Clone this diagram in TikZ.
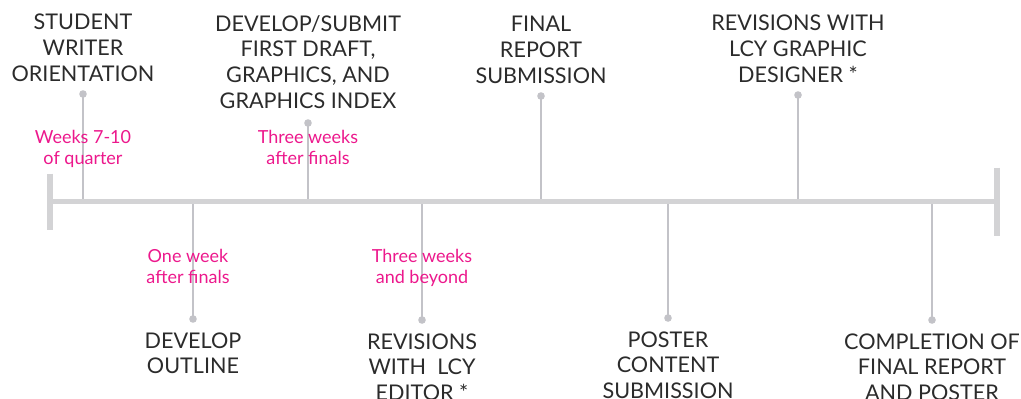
\documentclass[tikz,border=0pt]{standalone}
\usepackage{fontspec}
\setmainfont{Lato}
\definecolor{tlgray}{RGB}{211,211,213}
\definecolor{stemgray}{RGB}{195,195,200}
\definecolor{inkgray}{RGB}{43,43,43}
\definecolor{hotpink}{RGB}{236,24,140}
\usetikzlibrary{positioning, calc}
\tikzset{
	mainbar/.style={draw=tlgray, line width=2.75pt},
	endcap/.style={draw=tlgray, line width=3pt},
	stem/.style={draw=stemgray, line width=1pt},
	stemdot/.style={circle, fill=stemgray, inner sep=0pt, minimum size=3.8pt},
	milestone/.style={align=center, inner sep=0pt, text=inkgray, font=\fontsize{10.8}{12.85}\selectfont},
	timing/.style={align=center, inner sep=0pt, text=hotpink, font=\fontsize{9}{10.5}\selectfont},
}

\begin{document}
\begin{tikzpicture}[x=0.5pt, y=0.5pt, node distance=4pt]
		\useasboundingbox (0,0) rectangle (1021,398);
		\coordinate (barstart) at (50,196.5);
		\coordinate (barstop) at (997,196.5);
		\node[stemdot] (orientdot) at (83,304) {};
		\node[stemdot] (draftdot) at (308,275) {};
		\node[stemdot] (reportdot) at (541,302) {};
		\node[stemdot] (designerdot) at (798,303) {};
		\node[stemdot] (outlinedot) at (193,79) {};
		\node[stemdot] (editordot) at (422,78) {};
		\node[stemdot] (posterdot) at (668,80) {};
		\node[stemdot] (completedot) at (932,78) {};
		\draw[stem] (orientdot.center) -- (orientdot.center |- barstart);
		\draw[stem] (draftdot.center) -- (draftdot.center |- barstart);
		\draw[stem] (reportdot.center) -- (reportdot.center |- barstart);
		\draw[stem] (designerdot.center) -- (designerdot.center |- barstart);
		\draw[stem] (outlinedot.center) -- (outlinedot.center |- barstart);
		\draw[stem] (editordot.center) -- (editordot.center |- barstart);
		\draw[stem] (posterdot.center) -- (posterdot.center |- barstart);
		\draw[stem] (completedot.center) -- (completedot.center |- barstart);
		\draw[mainbar] (barstart) -- (barstop);
		\draw[endcap] ($(barstart)+(0,28)$) -- ($(barstart)+(0,-28)$);
		\draw[endcap] ($(barstop)+(0,34)$) -- ($(barstop)+(0,-34)$);
		\node[milestone, above=of orientdot] (orient) {STUDENT\\WRITER\\ORIENTATION};
		\node[milestone, above=5pt of draftdot] (draft) {DEVELOP/SUBMIT\\FIRST DRAFT,\\GRAPHICS, AND\\GRAPHICS INDEX};
		\node[milestone, above=of reportdot] (report) {FINAL\\REPORT\\SUBMISSION};
		\node[milestone, above=of designerdot] (designer) {REVISIONS WITH\\LCY GRAPHIC\\DESIGNER *};
		\node[milestone, below=4.5pt of outlinedot] (outline) {DEVELOP\\OUTLINE};
		\node[milestone, below=4.5pt of editordot] (editor) {REVISIONS\\WITH~ LCY\\EDITOR *};
		\node[milestone, below=4.5pt of posterdot] (poster) {POSTER\\CONTENT\\SUBMISSION};
		\node[milestone, below=4.5pt of completedot] (complete) {COMPLETION OF\\FINAL REPORT\\AND POSTER};
		\node[timing, anchor=north] (orienttime) at (83,268.5) {Weeks 7-10\\of quarter};
		\node[timing, anchor=north] (drafttime) at (308,268.5) {Three weeks\\after finals};
		\node[timing, anchor=north] (outlinetime) at (188,149) {One week\\after finals};
		\node[timing, anchor=north] (editortime) at (422,149) {Three weeks\\and beyond};
	\end{tikzpicture}
\end{document}
